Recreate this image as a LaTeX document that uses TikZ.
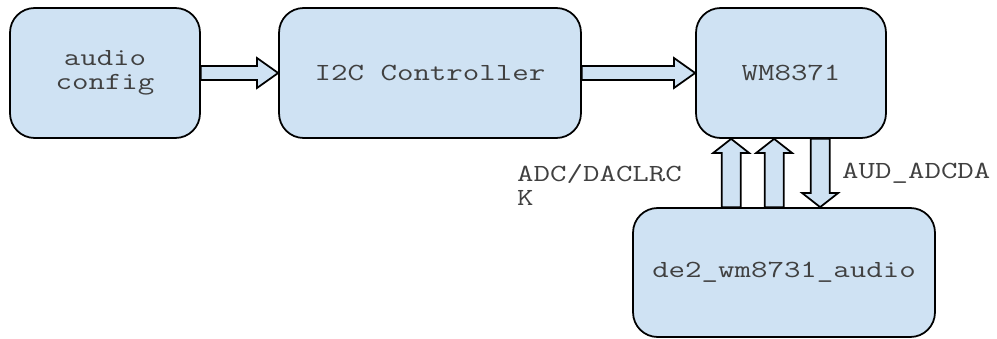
\documentclass[tikz,border=0pt]{standalone}
\usepackage{fontspec}
\setmonofont{Latin Modern Mono}[FakeStretch=1.3]
\usetikzlibrary{calc}

\definecolor{blockblue}{RGB}{207,226,243}

\tikzset{
  block/.style={draw=black, line width=1pt, fill=blockblue, rounded corners=14pt, align=center,
    font=\ttfamily\fontsize{14}{13.5}\selectfont, text=black!75},
  fatbody/.style={draw=black, line width=1pt, fill=blockblue, line join=miter},
  sig/.style={font=\ttfamily\fontsize{14}{13.5}\selectfont, text=black!75, align=left}
}

% block arrow: from, to, shaft half width, head half width, head length
\newcommand{\fatarrow}[5]{%
  \draw[fatbody] let \p1=(#1), \p2=(#2), \n1={atan2(\y2-\y1,\x2-\x1)}, \n2={veclen(\x2-\x1,\y2-\y1)} in
    [shift={(\p1)}, rotate=\n1]
    (0pt,#3) -- ({\n2-#5},#3) -- ({\n2-#5},#4) -- (\n2,0pt)
    -- ({\n2-#5},-#4) -- ({\n2-#5},-#3) -- (0pt,-#3) -- cycle;
}

\begin{document}
\begin{tikzpicture}[x=0.02cm, y=-0.02cm]
    \useasboundingbox (0,0) rectangle (997,338);

    % Blocks
    \node[block, minimum width=3.8cm, minimum height=2.6cm] (cfg) at (105,73) {audio\\config};
    \node[block, minimum width=6.04cm, minimum height=2.6cm] (i2c) at (430,73) {I2C Controller};
    \node[block, minimum width=3.8cm, minimum height=2.6cm] (wm) at (791,73) {WM8371};
    \node[block, minimum width=6.04cm, minimum height=2.58cm] (de2) at (784,272.5) {de2\_wm8731\_audio};

    % Points for the vertical arrows
    \coordinate (up1) at ($(wm.south west)+(36,0)$);
    \coordinate (up2) at ($(wm.south west)+(79,0)$);
    \coordinate (dn1) at ($(wm.south west)+(125,0)$);

    % Horizontal arrows
    \fatarrow{cfg.east}{i2c.west}{4pt}{8.5pt}{12pt}
    \fatarrow{i2c.east}{wm.west}{4pt}{8.5pt}{12pt}

    % Vertical arrows
    \fatarrow{up1 |- de2.north}{up1}{5.4pt}{10.2pt}{8pt}
    \fatarrow{up2 |- de2.north}{up2}{5.4pt}{10.2pt}{8pt}
    \fatarrow{dn1}{dn1 |- de2.north}{5.4pt}{10.2pt}{8pt}

    % Signal labels
    \node[sig, anchor=west] (lrc) at (511,185) {ADC/DACLRC\\K};
    \node[sig, anchor=west] (adc) at (836,173) {AUD\_ADCDA};
\end{tikzpicture}
\end{document}
